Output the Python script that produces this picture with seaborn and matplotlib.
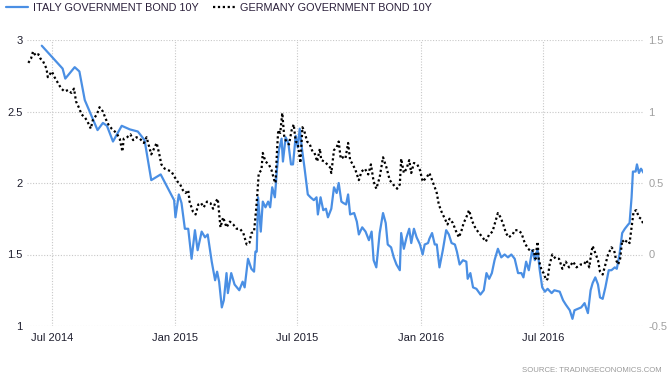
import pandas as pd
import matplotlib
matplotlib.use("Agg")
import matplotlib.pyplot as plt
import matplotlib.dates as mdates
from matplotlib.lines import Line2D
import seaborn as sns

# day offsets are counted from 1 Jul 2014
start = pd.Timestamp("2014-07-01")

italy_days = [-15, 16, 20, 34, 41, 49, 58, 68, 76, 82,
              91, 104, 116, 128, 138, 148, 162, 182, 184, 189,
              193, 198, 203, 208, 213, 217, 223, 228, 232, 238,
              243, 246, 249, 253, 256, 260, 262, 267, 272, 279,
              284, 287, 292, 297, 301, 303, 305, 307, 311, 314,
              318, 322, 325, 328, 332, 335, 338, 342, 344, 348,
              352, 356, 359, 363, 366, 369, 372, 376, 381, 385,
              390, 394, 396, 400, 404, 408, 411, 416, 420, 424,
              427, 431, 434, 438, 441, 444, 450, 454, 457, 462,
              467, 472, 476, 479, 483, 488, 493, 497, 500, 505,
              509, 513, 518, 520, 524, 528, 532, 535, 539, 543,
              548, 552, 555, 560, 562, 566, 570, 573, 577, 582,
              587, 591, 595, 600, 603, 607, 612, 617, 619, 623,
              627, 632, 638, 643, 647, 651, 655, 659, 664, 669,
              674, 679, 684, 689, 694, 699, 702, 706, 710, 715,
              719, 723, 726, 730, 734, 738, 744, 748, 756, 761,
              765, 771, 775, 778, 783, 788, 793, 798, 802, 805,
              809, 813, 816, 820, 824, 829, 833, 838, 841, 845,
              849, 853, 858, 860, 863, 865, 869, 871, 874, 877,
              881]
italy_yield = [2.96, 2.80, 2.73, 2.81, 2.78, 2.58, 2.48, 2.37, 2.42, 2.40,
               2.29, 2.40, 2.375, 2.36, 2.30, 2.02, 2.06, 1.88, 1.76, 1.92,
               1.86, 1.68, 1.68, 1.47, 1.67, 1.53, 1.66, 1.62, 1.64, 1.45,
               1.32, 1.38, 1.31, 1.13, 1.18, 1.37, 1.23, 1.37, 1.29, 1.25,
               1.31, 1.27, 1.47, 1.40, 1.38, 1.52, 1.52, 1.90, 1.66, 1.87,
               1.83, 1.87, 1.83, 1.97, 1.90, 2.09, 2.23, 2.31, 2.15, 2.32,
               2.28, 2.13, 2.13, 2.33, 2.25, 2.38, 2.25, 2.11, 1.92, 1.90,
               1.88, 1.90, 1.78, 1.90, 1.81, 1.82, 1.76, 1.82, 1.97, 1.93,
               2.00, 1.87, 1.86, 1.85, 1.92, 1.78, 1.79, 1.73, 1.64, 1.69,
               1.66, 1.60, 1.66, 1.46, 1.41, 1.65, 1.79, 1.72, 1.57, 1.55,
               1.48, 1.43, 1.39, 1.65, 1.54, 1.62, 1.68, 1.58, 1.68, 1.62,
               1.57, 1.50, 1.57, 1.58, 1.61, 1.65, 1.57, 1.57, 1.41, 1.53,
               1.67, 1.64, 1.58, 1.57, 1.52, 1.43, 1.46, 1.45, 1.33, 1.37,
               1.27, 1.26, 1.22, 1.25, 1.37, 1.33, 1.37, 1.46, 1.54, 1.48,
               1.50, 1.48, 1.50, 1.47, 1.37, 1.37, 1.34, 1.45, 1.39, 1.53,
               1.46, 1.54, 1.40, 1.27, 1.24, 1.26, 1.23, 1.25, 1.24, 1.18,
               1.15, 1.11, 1.05, 1.11, 1.12, 1.13, 1.16, 1.09, 1.25, 1.30,
               1.34, 1.29, 1.20, 1.19, 1.27, 1.39, 1.39, 1.41, 1.40, 1.50,
               1.65, 1.68, 1.71, 1.72, 1.90, 2.08, 2.08, 2.13, 2.07, 2.10,
               2.07]

germany_days = [-35, -31, -28, -24, -20, -17, -13, -8, -6, 0,
                4, 9, 14, 19, 24, 29, 33, 36, 41, 44,
                49, 53, 58, 61, 67, 71, 76, 80, 84, 89,
                96, 101, 105, 107, 112, 117, 121, 126, 131, 137,
                141, 145, 148, 152, 156, 160, 163, 168, 173, 178,
                183, 187, 191, 195, 199, 203, 205, 210, 214, 218,
                222, 226, 231, 236, 240, 244, 247, 251, 255, 260,
                265, 270, 275, 280, 285, 290, 294, 297, 301, 304,
                306, 308, 312, 314, 318, 323, 327, 331, 333, 335,
                337, 340, 343, 346, 349, 353, 357, 360, 363, 366,
                370, 373, 376, 380, 384, 388, 391, 395, 399, 401,
                406, 410, 414, 416, 420, 424, 427, 430, 433, 437,
                441, 444, 448, 452, 457, 461, 466, 471, 475, 479,
                483, 488, 493, 498, 503, 508, 514, 518, 520, 524,
                528, 532, 535, 539, 544, 548, 552, 558, 562, 566,
                570, 573, 576, 580, 585, 589, 592, 597, 601, 606,
                610, 613, 617, 621, 626, 631, 636, 641, 646, 651,
                656, 659, 664, 668, 672, 676, 680, 686, 689, 694,
                699, 704, 709, 714, 717, 720, 723, 725, 729, 732,
                736, 738, 741, 745, 750, 755, 760, 765, 770, 776,
                781, 787, 792, 796, 800, 803, 805, 809, 813, 816,
                820, 824, 828, 833, 837, 840, 843, 846, 849, 853,
                856, 860, 863, 866, 870, 874, 877, 881]
germany_yield = [1.34, 1.37, 1.42, 1.39, 1.40, 1.37, 1.35, 1.30, 1.24, 1.28,
                 1.24, 1.20, 1.16, 1.14, 1.15, 1.13, 1.16, 1.07, 1.02, 0.98,
                 0.96, 0.93, 0.88, 0.94, 0.98, 1.03, 1.00, 0.95, 0.91, 0.88,
                 0.85, 0.81, 0.72, 0.81, 0.82, 0.84, 0.80, 0.82, 0.81, 0.78,
                 0.82, 0.75, 0.70, 0.74, 0.78, 0.70, 0.63, 0.60, 0.59, 0.58,
                 0.54, 0.51, 0.49, 0.45, 0.43, 0.45, 0.37, 0.30, 0.28, 0.35,
                 0.36, 0.33, 0.37, 0.36, 0.32, 0.37, 0.39, 0.19, 0.26, 0.19,
                 0.23, 0.21, 0.18, 0.18, 0.15, 0.07, 0.08, 0.15, 0.16, 0.31,
                 0.43, 0.57, 0.59, 0.71, 0.65, 0.63, 0.59, 0.52, 0.50, 0.71,
                 0.87, 0.85, 0.99, 0.82, 0.79, 0.77, 0.87, 0.91, 0.79, 0.78,
                 0.64, 0.89, 0.86, 0.79, 0.77, 0.72, 0.71, 0.65, 0.74, 0.66,
                 0.65, 0.63, 0.61, 0.57, 0.73, 0.75, 0.79, 0.67, 0.68, 0.67,
                 0.78, 0.66, 0.63, 0.59, 0.52, 0.58, 0.60, 0.56, 0.63, 0.51,
                 0.46, 0.54, 0.68, 0.61, 0.52, 0.49, 0.46, 0.49, 0.67, 0.57,
                 0.60, 0.66, 0.57, 0.64, 0.63, 0.59, 0.51, 0.54, 0.57, 0.52,
                 0.47, 0.43, 0.35, 0.30, 0.25, 0.21, 0.25, 0.22, 0.17, 0.12,
                 0.17, 0.22, 0.26, 0.31, 0.23, 0.18, 0.15, 0.12, 0.09, 0.14,
                 0.16, 0.21, 0.29, 0.26, 0.21, 0.15, 0.12, 0.14, 0.17, 0.17,
                 0.15, 0.08, 0.04, 0.02, 0.03, -0.03, 0.09, -0.04, -0.11, -0.13,
                 -0.18, -0.17, -0.07, 0.00, -0.03, -0.03, -0.10, -0.05, -0.09, -0.05,
                 -0.09, -0.07, -0.07, -0.04, -0.09, 0.01, 0.06, 0.01, -0.04, -0.12,
                 -0.14, -0.07, 0.00, 0.05, 0.03, -0.04, -0.07, -0.03, 0.10, 0.08,
                 0.10, 0.08, 0.19, 0.30, 0.31, 0.26, 0.25, 0.21]

left_ticks = [1, 1.5, 2, 2.5, 3]
left_labels = ["1", "1.5", "2", "2.5", "3"]
right_ticks = [-0.5, 0, 0.5, 1, 1.5]
right_labels = ["-0.5", "0", "0.5", "1", "1.5"]
series_names = ["ITALY GOVERNMENT BOND 10Y", "GERMANY GOVERNMENT BOND 10Y"]

italy = pd.DataFrame({"date": start + pd.to_timedelta(italy_days, unit="D"),
                      "yield": italy_yield})
germany = pd.DataFrame({"date": start + pd.to_timedelta(germany_days, unit="D"),
                        "yield": germany_yield})

sns.set_theme(style="white")
plt.rcParams["font.family"] = ["Liberation Sans", "DejaVu Sans"]

blue = "#4a8fe4"
dots = (0, (1, 1.2))
fig, ax = plt.subplots(figsize=(6.71, 3.79), dpi=100)
fig.subplots_adjust(left=27 / 671, right=643 / 671, top=1 - 40 / 379, bottom=1 - 326 / 379)
ax2 = ax.twinx()

sns.lineplot(data=italy, x="date", y="yield", ax=ax, color=blue, linewidth=1.6,
             sort=False, estimator=None)
sns.lineplot(data=germany, x="date", y="yield", ax=ax2, color="black", linewidth=1.6,
             linestyle=dots, sort=False, estimator=None)

ax.set_ylim(1, 3)
ax2.set_ylim(-0.5, 1.5)
ax.set_xlim(start - pd.Timedelta(days=37), start + pd.Timedelta(days=880))

ax.set_yticks(left_ticks, labels=left_labels)
ax2.set_yticks(right_ticks, labels=right_labels)
ax.xaxis.set_major_locator(mdates.MonthLocator(bymonth=[1, 7]))
ax.xaxis.set_major_formatter(mdates.DateFormatter("%b %Y"))

ax.set_xlabel("")
ax.set_ylabel("")
ax2.set_ylabel("")
ax.grid(True, linestyle=(0, (1, 1.5)), color="#c8c8c8", linewidth=0.8)
ax.tick_params(axis="both", length=0, labelsize=8, labelcolor="#1e1e2e")
ax.tick_params(axis="y", pad=3)
ax.tick_params(axis="x", pad=5)
ax2.tick_params(axis="y", length=0, labelsize=8, labelcolor="#a0a0a0", pad=4)
for a in (ax, ax2):
    for s in a.spines.values():
        s.set_visible(False)

handles = [Line2D([], [], color=blue, linewidth=1.6),
           Line2D([], [], color="black", linewidth=1.6, linestyle=dots)]
fig.legend(handles, series_names, loc="upper left", bbox_to_anchor=(6 / 671, 1 - 3 / 379),
           ncol=2, frameon=False, fontsize=7.8, handlelength=2.0, handletextpad=0.45,
           columnspacing=1.4, borderpad=0, borderaxespad=0, labelcolor="#2a1f3a")

fig.text(662 / 671, 1 - 370 / 379, "SOURCE: TRADINGECONOMICS.COM", ha="right", va="center",
         fontsize=5.6, color="#9a9a9a")

fig.savefig("out.png", dpi=100)
